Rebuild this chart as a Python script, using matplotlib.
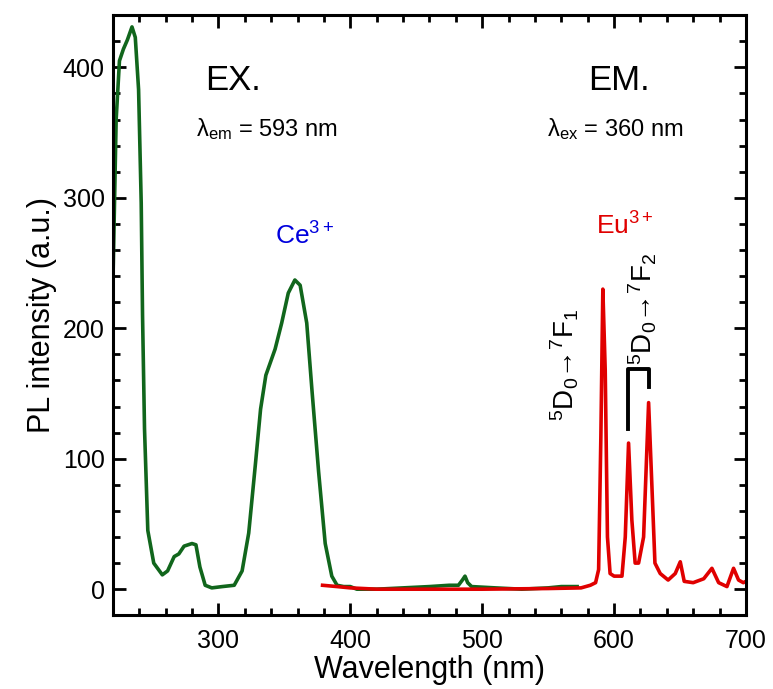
import matplotlib
matplotlib.use("Agg")
import matplotlib.pyplot as plt

plt.rcParams['font.family'] = ['Liberation Sans', 'DejaVu Sans']
plt.rcParams['mathtext.fontset'] = 'custom'
plt.rcParams['mathtext.rm'] = 'Liberation Sans'
plt.rcParams['mathtext.it'] = 'Liberation Sans:italic'

# excitation spectrum (lambda_em = 593 nm)
ex_nm = [220, 222.5, 225, 228, 231, 234.5, 237, 239.5, 241.5, 242.5, 244, 246.5,
         251, 257.5, 261.5, 266.5, 270, 274, 280, 283, 286, 290, 295, 303, 312,
         318, 323, 328, 332, 336, 343, 348, 353, 358, 362, 367, 371, 376, 381,
         386, 390, 395, 400, 405, 420, 440, 460, 475, 482, 485, 487, 489, 492,
         510, 530, 550, 560, 572]
ex_int = [232, 360, 405, 414, 421, 431, 423, 383, 296, 210, 123, 45,
          20, 11, 14, 25, 27, 33, 35, 34, 17, 3, 1, 2, 3,
          14, 43, 95, 138, 164, 184, 204, 227, 237, 233, 204, 152, 90, 35,
          10, 3, 2, 2, 0, 0, 1, 2, 3, 3, 7, 10, 5, 2,
          1, 0, 1, 2, 2]

# emission spectrum (lambda_ex = 360 nm)
em_nm = [379, 390, 400, 420, 450, 500, 550, 575, 582, 586, 588.3, 590, 591.5,
         593.3, 595, 597, 600, 606, 608.5, 611, 613.5, 616, 618.6, 622.4, 626.2,
         628.7, 631, 635, 641, 646.4, 650.2, 653.2, 660, 668, 674.2, 679.3,
         685.6, 690.6, 694.4, 698, 700]
em_int = [3, 2, 1, 0, 0, 0, 0.5, 1, 3, 5, 15, 117, 230,
          168, 40, 12, 10, 10, 40, 112, 53, 20, 20, 40, 143,
          79, 20, 12, 7, 12, 21, 6, 5, 8, 16, 5,
          2, 16, 7, 5, 6]

fig = plt.figure(figsize=(7.73, 6.89), dpi=100)
fig.subplots_adjust(left=0.146, right=0.965, bottom=0.107, top=0.978)
ax = fig.add_subplot(111)

ax.plot(ex_nm, ex_int, color="#11661c", lw=2.6)
ax.plot(em_nm, em_int, color="#e00000", lw=2.6)

ax.set_xlim(220, 700)
ax.set_ylim(-20, 440)
ax.set_xticks([300, 400, 500, 600, 700])
ax.set_xticks(range(240, 700, 20), minor=True)
ax.set_yticks([0, 100, 200, 300, 400])
ax.set_yticks(range(-20, 441, 20), minor=True)

for s in ax.spines.values():
    s.set_linewidth(2.2)
ax.tick_params(which='both', direction='in', top=True, right=True, width=2)
ax.tick_params(which='major', length=9, labelsize=18, pad=6)
ax.tick_params(axis='x', which='major', pad=10)
ax.tick_params(which='minor', length=5)

ax.set_xlabel("Wavelength (nm)", fontsize=22, labelpad=1)
ax.set_ylabel("PL intensity (a.u.)", fontsize=22, labelpad=4)

# labels inside the plot
ax.text(290, 383, "EX.", fontsize=25)
ax.text(283, 347, r"λ$_{\mathrm{em}}$ = 593 nm", fontsize=17)
ax.text(580, 383, "EM.", fontsize=25)
ax.text(549, 347, r"λ$_{\mathrm{ex}}$ = 360 nm", fontsize=17)
ax.text(343, 264, r"Ce$^{3+}$", fontsize=19, color="#0000dd")
ax.text(586, 272, r"Eu$^{3+}$", fontsize=19, color="#e00000")

ax.text(563, 172, r"$^{5}$D$_{0}$→$^{7}$F$_{1}$", fontsize=20, rotation=90,
        ha='center', va='center')
ax.text(622, 215, r"$^{5}$D$_{0}$→$^{7}$F$_{2}$", fontsize=20, rotation=90,
        ha='center', va='center')

# bracket over the two Eu peaks
ax.plot([610.5, 610.5, 626.5, 626.5], [123, 169, 169, 155], color="black", lw=2.8)

plt.savefig("out.png", dpi=100)
